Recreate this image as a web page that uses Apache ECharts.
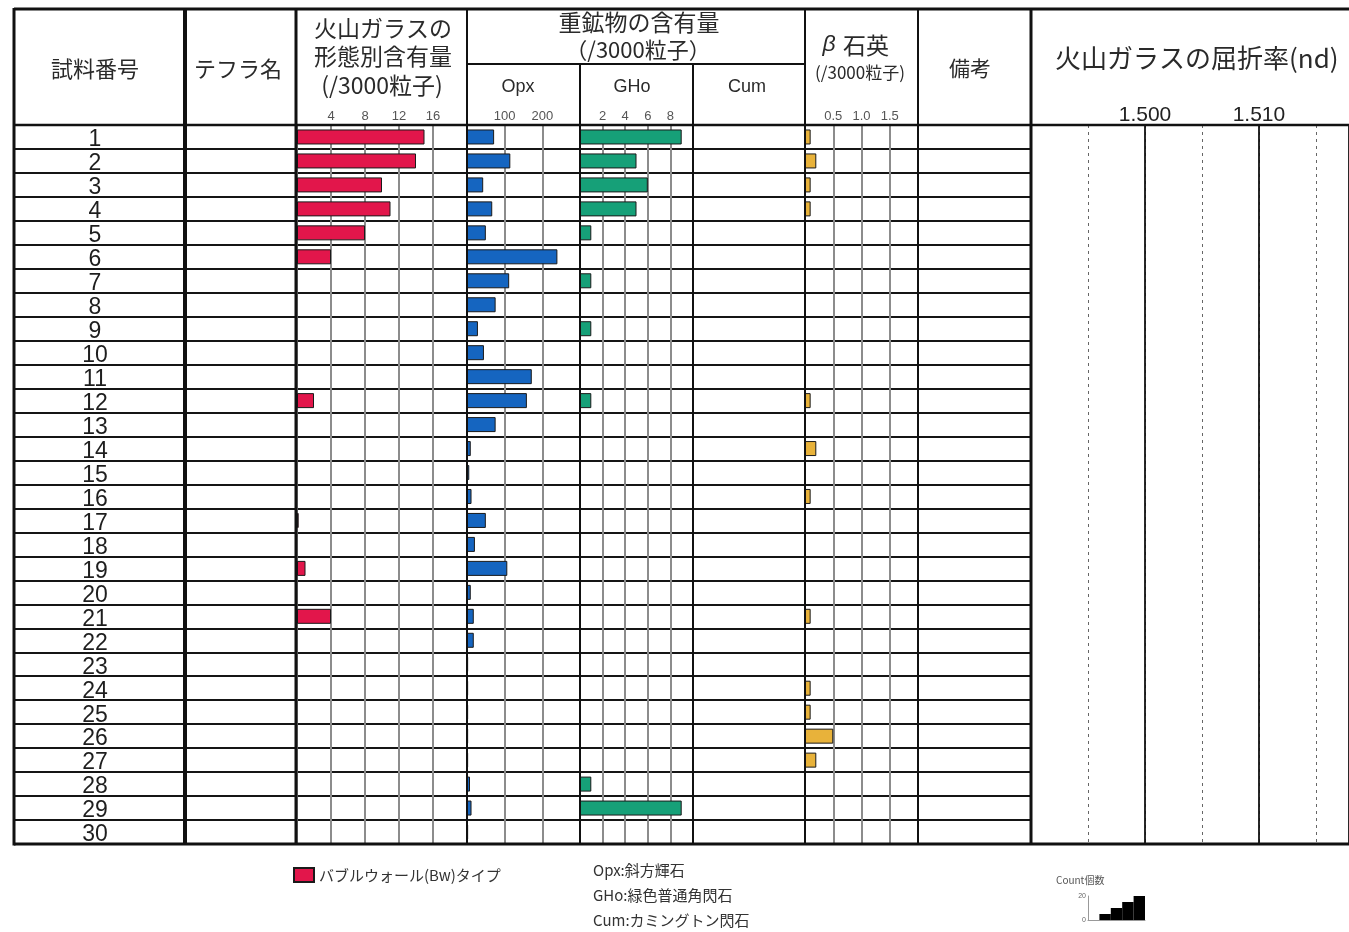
<!DOCTYPE html>
<html>
<head>
<meta charset="utf-8">
<script src="https://cdn.jsdelivr.net/npm/echarts@6/dist/echarts.min.js"></script>
<style>
html, body { margin: 0; padding: 0; background: #fff; }
#chart { width: 1349px; height: 932px; }
</style>
</head>
<body>
<div id="chart"></div>
<script>
// rows of the table
const sampleNos = ['1','2','3','4','5','6','7','8','9','10','11','12','13','14','15',
  '16','17','18','19','20','21','22','23','24','25','26','27','28','29','30'];

// 火山ガラス バブルウォール(Bw)タイプ (/3000粒子)
const glassBw = [15, 14, 10, 11, 8, 4, 0, 0, 0, 0, 0, 2, 0, 0, 0,
  0, 0.2, 0, 1, 0, 4, 0, 0, 0, 0, 0, 0, 0, 0, 0];
// Opx (/3000粒子)
const opx = [72, 115, 43, 67, 50, 240, 112, 76, 29, 45, 172, 159, 76, 10, 6,
  12, 50, 21, 107, 10, 18, 18, 3, 3, 3, 3, 3, 8, 12, 3];
// GHo (/3000粒子)
const gho = [9, 5, 6, 5, 1, 0, 1, 0, 1, 0, 0, 1, 0, 0, 0,
  0, 0, 0, 0, 0, 0, 0, 0, 0, 0, 0, 0, 1, 9, 0];
// β石英 (/3000粒子)
const betaQz = [0.1, 0.2, 0.1, 0.1, 0, 0, 0, 0, 0, 0, 0, 0.1, 0, 0.2, 0,
  0.1, 0, 0, 0, 0, 0.1, 0, 0, 0.1, 0.1, 0.5, 0.2, 0, 0, 0];
// Count 個数 legend sample
const countSteps = [0, 5, 10, 15, 20];

const glassName = 'バブルウォール(Bw)タイプ';
const cjk = '"Noto Sans CJK JP", sans-serif';
const latin = '"Liberation Sans", Arial, sans-serif';

const chart = echarts.init(document.getElementById('chart'));

const rowTop = 125, rowH = 719;
const gray = '#8c8c8c';

function valueAxis(grid, min, max, step, fmt) {
  return {
    type: 'value', gridIndex: grid, min: min, max: max, interval: step,
    position: 'top',
    axisLine: { show: false }, axisTick: { show: false },
    axisLabel: {
      showMinLabel: false, showMaxLabel: false, margin: 2,
      fontSize: 13, color: '#555', fontFamily: latin,
      formatter: fmt
    },
    splitLine: { lineStyle: { color: gray, width: 2 } }
  };
}
function hiddenRows(grid) {
  return { type: 'category', gridIndex: grid, inverse: true, data: sampleNos, show: false };
}
function barSeries(name, axis, data, color) {
  return {
    name: name, type: 'bar', xAxisIndex: axis, yAxisIndex: axis,
    data: data.map(v => (v === 0 ? '-' : v)), barWidth: 15,
    itemStyle: { color: color, borderColor: '#1a1a1a', borderWidth: 1 },
    silent: true
  };
}

// table frame
const frame = [
  [14, 9, 1349, 9, 3], [14, 844, 1349, 844, 3], [14, 125, 1349, 125, 2.5],
  [14, 8, 14, 845.5, 3], [185, 9, 185, 844, 4], [296, 9, 296, 844, 3],
  [467, 9, 467, 844, 2], [467, 64, 805, 64, 2], [580, 64, 580, 844, 2],
  [693, 64, 693, 844, 2], [805, 9, 805, 844, 2], [918, 9, 918, 844, 2],
  [1031, 9, 1031, 844, 3]
];
const frameLines = frame.map(f => ({
  type: 'line', z: 50, silent: true,
  shape: { x1: f[0], y1: f[1], x2: f[2], y2: f[3] },
  style: { stroke: '#111', lineWidth: f[4] }
}));

function txt(text, x, y, size, opts) {
  opts = opts || {};
  return {
    type: 'text', z: 60, silent: true,
    style: {
      text: text, x: x, y: y,
      font: (opts.style || '') + ' ' + size + 'px ' + (opts.family || cjk),
      fill: opts.color || '#2a2a2a',
      textAlign: opts.align || 'center', textVerticalAlign: 'middle',
      align: opts.align || 'center', verticalAlign: 'middle'
    }
  };
}

const headerTexts = [
  txt('試料番号', 95, 69, 22),
  txt('テフラ名', 238, 69, 22),
  txt('火山ガラスの', 383, 28, 23),
  txt('形態別含有量', 383, 56, 23),
  txt('(/3000粒子)', 382, 85, 23),
  txt('重鉱物の含有量', 639, 22, 23),
  txt('（/3000粒子）', 638, 50, 22),
  txt('Opx', 518, 87, 18, { family: latin }),
  txt('GHo', 632, 87, 18, { family: latin }),
  txt('Cum', 747, 87, 18, { family: latin }),
  txt('β', 829, 45, 23, { style: 'italic', family: latin }),
  txt('石英', 866, 45, 23),
  txt('(/3000粒子)', 860, 73, 17),
  txt('備考', 970, 68, 21),
  txt('火山ガラスの屈折率(nd)', 1055, 58, 26, { align: 'left' }),
  txt('Opx:斜方輝石', 593, 870, 15, { align: 'left', color: '#333' }),
  txt('GHo:緑色普通角閃石', 593, 895, 15, { align: 'left', color: '#333' }),
  txt('Cum:カミングトン閃石', 593, 920, 15, { align: 'left', color: '#333' }),
  txt('Count個数', 1056, 880, 10, { align: 'left', color: '#555' })
];

const option = {
  backgroundColor: '#fff',
  animation: false,
  legend: {
    data: [glassName], left: 288, top: 862, icon: 'rect',
    itemWidth: 20, itemHeight: 14, itemGap: 4, selectedMode: false,
    textStyle: { fontSize: 15, color: '#333', fontFamily: cjk }
  },
  grid: [
    { left: 14, top: rowTop, width: 1017, height: rowH },   // table rows
    { left: 297, top: rowTop, width: 170, height: rowH },   // glass
    { left: 467, top: rowTop, width: 113, height: rowH },   // Opx
    { left: 580, top: rowTop, width: 113, height: rowH },   // GHo
    { left: 805, top: rowTop, width: 113, height: rowH },   // β石英
    { left: 1031, top: rowTop, right: 0, height: rowH },    // refractive index
    { left: 1088, top: 896, width: 57, height: 24 }         // count legend
  ],
  xAxis: [
    { type: 'value', gridIndex: 0, show: false },
    valueAxis(1, 0, 20, 4),
    valueAxis(2, 0, 300, 100),
    valueAxis(3, 0, 10, 2),
    valueAxis(4, 0, 2, 0.5, v => v.toFixed(1)),
    {
      type: 'value', gridIndex: 5, min: 1.49, max: 1.5179, interval: 0.005,
      axisLine: { show: false }, axisTick: { show: false }, axisLabel: { show: false },
      splitLine: { lineStyle: { color: '#666', width: 1, type: [3, 4] } }
    },
    {
      type: 'value', gridIndex: 5, min: 1.49, max: 1.5179, interval: 0.01, position: 'top',
      axisLine: { show: false }, axisTick: { show: false },
      axisLabel: {
        showMinLabel: false, showMaxLabel: false, margin: -1, fontSize: 21, color: '#222',
        fontFamily: latin, formatter: v => v.toFixed(3)
      },
      splitLine: { lineStyle: { color: '#111', width: 1.8 } }
    },
    {
      type: 'category', gridIndex: 6, data: countSteps.map((v, i) => i),
      axisLine: { lineStyle: { color: '#999', width: 1 } },
      axisTick: { show: false }, axisLabel: { show: false }
    }
  ],
  yAxis: [
    {
      type: 'category', gridIndex: 0, inverse: true, data: sampleNos,
      axisLine: { show: false }, axisTick: { show: false },
      axisLabel: {
        interval: 0, margin: -81, align: 'center', verticalAlign: 'top', lineHeight: 6,
        fontSize: 23, color: '#1e1e1e', fontFamily: latin
      },
      splitLine: { show: true, interval: 0, lineStyle: { color: '#151515', width: 2 } }
    },
    hiddenRows(1), hiddenRows(2), hiddenRows(3), hiddenRows(4), hiddenRows(5),
    {
      type: 'value', gridIndex: 6, min: 0, max: 20, interval: 20,
      axisLine: { show: true, lineStyle: { color: '#999', width: 1 } },
      axisTick: { show: false }, splitLine: { show: false },
      axisLabel: { fontSize: 7, color: '#666', margin: 2 }
    }
  ],
  series: [
    barSeries(glassName, 1, glassBw, '#E2164B'),
    barSeries('Opx', 2, opx, '#1565C0'),
    barSeries('GHo', 3, gho, '#16A078'),
    barSeries('β石英', 4, betaQz, '#E8B23A'),
    {
      type: 'bar', xAxisIndex: 7, yAxisIndex: 6, data: countSteps,
      barCategoryGap: '0%', itemStyle: { color: '#000' }, silent: true
    }
  ],
  graphic: frameLines.concat(headerTexts)
};

chart.setOption(option);
</script>
</body>
</html>
